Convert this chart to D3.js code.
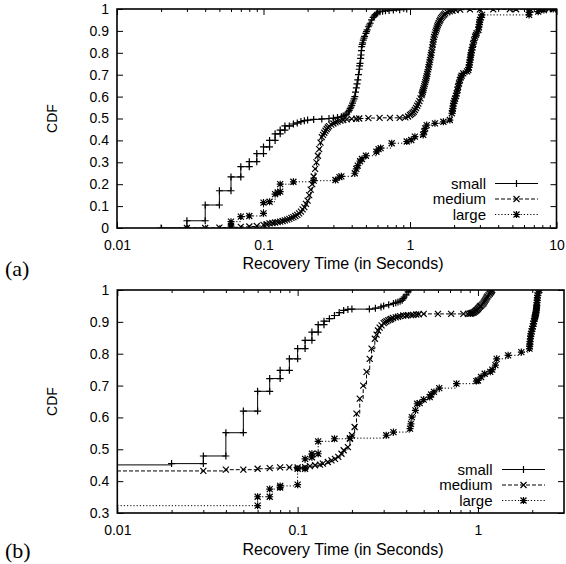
<!DOCTYPE html>
<html><head><meta charset="utf-8">
<script src="https://cdn.jsdelivr.net/npm/d3@7"></script>
<style>body{margin:0;background:#fff}svg text{font-family:"Liberation Sans",Arial,Helvetica,sans-serif;fill:#000}</style>
</head><body>
<svg id="chart" width="566" height="564"></svg>
<script>
// ---------- data ----------
const seriesNames = ["small", "medium", "large"];
const xTitle = "Recovery Time (in Seconds)";
const yTitle = "CDF";
const panelLabels = ["(a)", "(b)"];

const xTickLabelsA = [0.01, 0.1, 1, 10];
const yTickLabelsA = [0, 0.1, 0.2, 0.3, 0.4, 0.5, 0.6, 0.7, 0.8, 0.9, 1];
const xTickLabelsB = [0.01, 0.1, 1];
const yTickLabelsB = [0.3, 0.4, 0.5, 0.6, 0.7, 0.8, 0.9, 1];

// panel (a)
const smallA = [[0.02,0],[0.03,0],[0.03,0.033],[0.04,0.033],[0.04,0.105],[0.05,0.105],[0.05,0.17],[0.06,0.17],[0.06,0.233],[0.07,0.233],[0.07,0.28],[0.08,0.28],[0.08,0.303],[0.09,0.303],[0.09,0.34],[0.1,0.34],[0.1,0.37],[0.11,0.37],[0.11,0.40],[0.12,0.40],[0.12,0.43],[0.13,0.43],[0.13,0.447],[0.14,0.447],[0.14,0.466],[0.15,0.466],[0.16,0.475],[0.17,0.48],[0.18,0.486],[0.19,0.49],[0.2,0.493],[0.22,0.496],[0.25,0.498],[0.28,0.5],[0.3,0.502],[0.32,0.505],[0.34,0.508],[0.35,0.511],[0.36,0.515],[0.37,0.52],[0.38,0.53],[0.385,0.537],[0.39,0.545],[0.395,0.552],[0.4,0.56],[0.405,0.57],[0.41,0.58],[0.415,0.59],[0.42,0.60],[0.425,0.62],[0.43,0.64],[0.435,0.658],[0.44,0.676],[0.445,0.70],[0.45,0.725],[0.453,0.74],[0.456,0.752],[0.46,0.775],[0.463,0.79],[0.466,0.81],[0.468,0.828],[0.472,0.838],[0.475,0.845],[0.48,0.858],[0.485,0.867],[0.49,0.875],[0.50,0.889],[0.505,0.897],[0.51,0.905],[0.52,0.919],[0.527,0.927],[0.535,0.935],[0.547,0.95],[0.56,0.962],[0.57,0.968],[0.577,0.973],[0.59,0.978],[0.6,0.982],[0.624,0.988],[0.65,0.99],[0.68,0.992],[0.72,0.993],[0.77,0.995],[0.85,0.997],[0.95,1.0]];
const mediumA = [[0.03,0],[0.04,0],[0.05,0.002],[0.06,0.003],[0.07,0.005],[0.08,0.007],[0.09,0.009],[0.1,0.014],[0.105,0.017],[0.11,0.021],[0.115,0.023],[0.12,0.025],[0.125,0.027],[0.13,0.029],[0.135,0.032],[0.14,0.035],[0.145,0.038],[0.15,0.042],[0.155,0.046],[0.16,0.05],[0.165,0.055],[0.17,0.06],[0.175,0.067],[0.18,0.075],[0.185,0.085],[0.19,0.095],[0.195,0.11],[0.2,0.125],[0.205,0.15],[0.21,0.175],[0.215,0.2],[0.22,0.235],[0.225,0.27],[0.23,0.3],[0.235,0.33],[0.24,0.36],[0.245,0.39],[0.25,0.415],[0.255,0.425],[0.26,0.435],[0.265,0.444],[0.27,0.452],[0.275,0.459],[0.28,0.465],[0.29,0.472],[0.3,0.477],[0.31,0.482],[0.32,0.486],[0.335,0.49],[0.35,0.493],[0.37,0.496],[0.4,0.498],[0.43,0.499],[0.45,0.5],[0.52,0.502],[0.62,0.503],[0.73,0.503],[0.85,0.503],[0.93,0.505],[0.97,0.509],[1.0,0.516],[1.02,0.52],[1.04,0.525],[1.06,0.531],[1.08,0.539],[1.1,0.548],[1.12,0.558],[1.14,0.568],[1.16,0.579],[1.18,0.592],[1.2,0.607],[1.21,0.614],[1.22,0.622],[1.23,0.63],[1.24,0.639],[1.25,0.648],[1.26,0.657],[1.27,0.666],[1.28,0.675],[1.29,0.684],[1.3,0.693],[1.31,0.703],[1.32,0.713],[1.33,0.724],[1.34,0.735],[1.35,0.746],[1.36,0.757],[1.37,0.768],[1.38,0.779],[1.39,0.79],[1.4,0.8],[1.41,0.812],[1.42,0.825],[1.43,0.838],[1.44,0.85],[1.45,0.861],[1.46,0.872],[1.475,0.883],[1.49,0.893],[1.505,0.902],[1.52,0.911],[1.535,0.92],[1.55,0.928],[1.57,0.936],[1.59,0.944],[1.61,0.951],[1.63,0.958],[1.655,0.964],[1.68,0.97],[1.71,0.975],[1.74,0.98],[1.8,0.985],[1.87,0.989],[1.95,0.992],[2.05,0.995],[2.2,0.997],[2.57,0.998],[3.0,0.998],[3.7,0.998],[4.8,0.999],[5.3,0.999],[6.6,0.999],[7.7,0.999],[8.9,1.0],[9.5,1.0]];
const largeA = [[0.06,0.009],[0.06,0.029],[0.07,0.052],[0.08,0.055],[0.1,0.067],[0.1,0.116],[0.11,0.12],[0.12,0.155],[0.125,0.162],[0.13,0.166],[0.13,0.2],[0.16,0.211],[0.22,0.216],[0.31,0.219],[0.33,0.232],[0.34,0.236],[0.42,0.25],[0.43,0.27],[0.44,0.285],[0.456,0.305],[0.47,0.315],[0.5,0.33],[0.59,0.348],[0.61,0.36],[0.63,0.365],[0.75,0.387],[0.95,0.395],[1.02,0.402],[1.08,0.417],[1.23,0.425],[1.25,0.44],[1.27,0.455],[1.3,0.47],[1.48,0.478],[1.69,0.485],[1.87,0.493],[1.93,0.524],[1.95,0.535],[1.96,0.545],[1.97,0.557],[1.98,0.569],[2.01,0.58],[2.03,0.59],[2.06,0.603],[2.08,0.615],[2.11,0.63],[2.13,0.645],[2.16,0.66],[2.19,0.676],[2.22,0.688],[2.25,0.695],[2.31,0.706],[2.45,0.715],[2.5,0.721],[2.52,0.733],[2.54,0.745],[2.555,0.756],[2.57,0.767],[2.59,0.78],[2.6,0.79],[2.62,0.8],[2.64,0.813],[2.67,0.825],[2.7,0.84],[2.74,0.857],[2.78,0.874],[2.82,0.882],[2.85,0.89],[2.93,0.904],[2.95,0.918],[2.97,0.93],[2.99,0.94],[3.0,0.95],[3.05,0.962],[3.1,0.973],[6.5,0.973],[6.5,0.985],[7.5,0.988],[8.2,0.995],[9.5,1.0]];

// panel (b)
const smallB = [[0.005,0.451],[0.02,0.455],[0.03,0.455],[0.03,0.479],[0.04,0.479],[0.04,0.552],[0.05,0.552],[0.05,0.62],[0.06,0.62],[0.06,0.682],[0.07,0.682],[0.07,0.722],[0.08,0.722],[0.08,0.748],[0.09,0.748],[0.09,0.784],[0.1,0.784],[0.1,0.816],[0.11,0.816],[0.11,0.842],[0.12,0.842],[0.12,0.868],[0.13,0.868],[0.13,0.891],[0.14,0.891],[0.14,0.902],[0.15,0.91],[0.16,0.92],[0.17,0.929],[0.18,0.936],[0.19,0.939],[0.2,0.94],[0.25,0.94],[0.27,0.943],[0.29,0.947],[0.3,0.95],[0.32,0.954],[0.34,0.958],[0.35,0.96],[0.36,0.962],[0.37,0.965],[0.38,0.968],[0.385,0.973],[0.39,0.978],[0.4,0.985],[0.41,0.994],[0.42,1.0]];
const mediumB = [[0.005,0.432],[0.03,0.432],[0.04,0.436],[0.05,0.436],[0.06,0.439],[0.07,0.441],[0.08,0.443],[0.09,0.443],[0.1,0.443],[0.11,0.444],[0.117,0.447],[0.125,0.45],[0.133,0.452],[0.138,0.455],[0.147,0.46],[0.154,0.465],[0.161,0.47],[0.168,0.476],[0.175,0.486],[0.18,0.497],[0.19,0.507],[0.195,0.533],[0.2,0.544],[0.207,0.57],[0.212,0.612],[0.221,0.659],[0.231,0.70],[0.241,0.743],[0.251,0.784],[0.257,0.816],[0.268,0.847],[0.274,0.86],[0.279,0.873],[0.285,0.882],[0.292,0.889],[0.3,0.896],[0.305,0.899],[0.311,0.902],[0.318,0.905],[0.325,0.907],[0.33,0.909],[0.338,0.912],[0.35,0.914],[0.36,0.916],[0.37,0.918],[0.385,0.92],[0.4,0.92],[0.41,0.921],[0.425,0.921],[0.437,0.922],[0.455,0.923],[0.47,0.924],[0.5,0.925],[0.6,0.925],[0.71,0.925],[0.83,0.925],[0.88,0.925],[0.9,0.926],[0.91,0.926],[0.92,0.927],[0.93,0.928],[0.94,0.929],[0.95,0.93],[0.96,0.932],[0.97,0.934],[0.98,0.936],[0.99,0.938],[1.0,0.941],[1.01,0.944],[1.02,0.947],[1.03,0.949],[1.04,0.951],[1.055,0.954],[1.07,0.957],[1.08,0.961],[1.09,0.965],[1.1,0.969],[1.11,0.973],[1.12,0.977],[1.13,0.98],[1.145,0.984],[1.16,0.988],[1.17,0.991],[1.18,0.994],[1.19,0.997],[1.2,1.0]];
const largeB = [[0.005,0.323],[0.06,0.323],[0.06,0.351],[0.07,0.351],[0.07,0.375],[0.08,0.38],[0.08,0.385],[0.1,0.389],[0.1,0.439],[0.11,0.439],[0.11,0.47],[0.12,0.475],[0.12,0.486],[0.13,0.486],[0.13,0.525],[0.16,0.533],[0.195,0.535],[0.31,0.544],[0.34,0.554],[0.42,0.565],[0.425,0.58],[0.43,0.601],[0.45,0.622],[0.46,0.643],[0.475,0.645],[0.5,0.656],[0.54,0.664],[0.55,0.672],[0.57,0.68],[0.61,0.692],[0.76,0.706],[0.98,0.714],[1.0,0.716],[1.04,0.727],[1.09,0.737],[1.17,0.743],[1.2,0.75],[1.25,0.764],[1.27,0.784],[1.47,0.795],[1.74,0.805],[1.93,0.816],[1.935,0.823],[1.94,0.83],[1.945,0.838],[1.95,0.847],[1.96,0.855],[1.97,0.862],[1.985,0.87],[2.0,0.878],[2.015,0.886],[2.03,0.894],[2.045,0.902],[2.06,0.91],[2.07,0.915],[2.08,0.92],[2.09,0.925],[2.1,0.93],[2.105,0.936],[2.11,0.942],[2.115,0.947],[2.12,0.952],[2.125,0.96],[2.13,0.968],[2.135,0.975],[2.14,0.983],[2.16,0.99],[2.19,1.0]];

// ---------- drawing ----------
const svg = d3.select("#chart");
const markerPaths = {
  small: "M-3.5,0H3.5M0,-3.5V3.5",
  medium: "M-3,-3L3,3M-3,3L3,-3",
  large: "M-3.5,0H3.5M0,-3.5V3.5M-3,-3L3,3M-3,3L3,-3"
};
const dashes = {small: null, medium: "4,2", large: "1.2,2"};
const fmt = d => String(d);

function drawPanel(cfg, idx) {
  const x = d3.scaleLog().domain(cfg.xDomain).range(cfg.xRange);
  const y = d3.scaleLinear().domain(cfg.yDomain).range(cfg.yRange);
  const g = svg.append("g");
  const [x0, x1] = cfg.xRange, [y0, y1] = cfg.yRange;
  const clipId = "clip" + idx;
  g.append("clipPath").attr("id", clipId).append("rect")
    .attr("x", x0).attr("y", y1).attr("width", x1 - x0).attr("height", y0 - y1);

  const minor = [];
  cfg.xDomainDecades.forEach(d => { for (let k = 2; k <= 9; k++) { const v = d * k; if (v < cfg.xDomain[1] * 0.999) minor.push(v); } });
  const mk = (axisFn, scale, vals, size, tr, labels) => {
    const a = axisFn(scale).tickValues(vals).tickSizeInner(size).tickSizeOuter(0)
      .tickFormat(labels ? fmt : "");
    const ag = g.append("g").attr("transform", tr).call(a)
      .attr("font-family", null).attr("font-size", null);
    ag.select(".domain").remove();
    ag.selectAll("line").attr("stroke", "#000").attr("stroke-width", 1);
    return ag;
  };
  const bx = mk(d3.axisBottom, x, cfg.xTicks, -6, `translate(0,${y0})`, true);
  bx.selectAll("text").attr("y", 12.5).attr("dy", "0.71em").style("font-size", "14px");
  mk(d3.axisBottom, x, minor, -3, `translate(0,${y0})`, false);
  mk(d3.axisTop, x, cfg.xTicks, -6, `translate(0,${y1})`, false);
  mk(d3.axisTop, x, minor, -3, `translate(0,${y1})`, false);
  const ly = mk(d3.axisLeft, y, cfg.yTicks, -6, `translate(${x0},0)`, true);
  ly.selectAll("text").attr("x", -8).style("font-size", "14px");
  mk(d3.axisRight, y, cfg.yTicks, -6, `translate(${x1},0)`, false);

  const line = d3.line().x(d => x(d[0])).y(d => y(d[1])).curve(d3.curveStepAfter);
  const pg = g.append("g").attr("clip-path", `url(#${clipId})`);
  cfg.series.forEach((s, i) => {
    const name = seriesNames[i];
    pg.append("path").datum(s).attr("d", line).attr("fill", "none")
      .attr("stroke", "#000").attr("stroke-width", 1)
      .attr("stroke-dasharray", dashes[name]);
    pg.selectAll(null).data(s).join("path")
      .attr("transform", d => `translate(${x(d[0])},${y(d[1])})`)
      .attr("d", markerPaths[name]).attr("fill", "none").attr("stroke", "#000").attr("stroke-width", 1.2);
  });

  g.append("rect").attr("x", x0).attr("y", y1).attr("width", x1 - x0).attr("height", y0 - y1)
    .attr("fill", "none").attr("stroke", "#000").attr("stroke-width", 1.6);

  seriesNames.forEach((name, i) => {
    const ry = cfg.legendY + i * 15.5;
    g.append("text").attr("x", cfg.legendTextX).attr("y", ry).attr("dy", "0.35em")
      .attr("text-anchor", "end").style("font-size", "15px").text(name);
    g.append("line").attr("x1", cfg.legendLine[0]).attr("x2", cfg.legendLine[1]).attr("y1", ry).attr("y2", ry)
      .attr("stroke", "#000").attr("stroke-width", 1).attr("stroke-dasharray", dashes[name]);
    g.append("path").attr("transform", `translate(${(cfg.legendLine[0] + cfg.legendLine[1]) / 2},${ry})`)
      .attr("d", markerPaths[name]).attr("fill", "none").attr("stroke", "#000").attr("stroke-width", 1.2);
  });

  g.append("text").attr("x", 343).attr("y", cfg.titleY).attr("text-anchor", "middle")
    .style("font-size", "16px").text(xTitle);
  g.append("text").attr("transform", `translate(52,${(y0 + y1) / 2}) rotate(-90)`)
    .attr("text-anchor", "middle").attr("dy", "0.35em").style("font-size", "14px").text(yTitle);
  g.append("text").attr("x", 5).attr("y", cfg.panelLabelY)
    .style("font-family", "'Liberation Serif','Times New Roman',serif").style("font-size", "22px")
    .text(panelLabels[idx]);
}

drawPanel({
  xDomain: [0.01, 10], xRange: [117, 556.5], yDomain: [0, 1], yRange: [228, 9],
  xDomainDecades: [0.01, 0.1, 1], xTicks: xTickLabelsA, yTicks: yTickLabelsA,
  series: [smallA, mediumA, largeA],
  legendY: 183.5, legendTextX: 486, legendLine: [495, 538],
  titleY: 269, panelLabelY: 276
}, 0);
drawPanel({
  xDomain: [0.01, 3], xRange: [117.3, 564], yDomain: [0.3, 1], yRange: [513, 290],
  xDomainDecades: [0.01, 0.1, 1], xTicks: xTickLabelsB, yTicks: yTickLabelsB,
  series: [smallB, mediumB, largeB],
  legendY: 469.5, legendTextX: 492.5, legendLine: [502, 545],
  titleY: 555, panelLabelY: 558
}, 1);
</script>
</body></html>
